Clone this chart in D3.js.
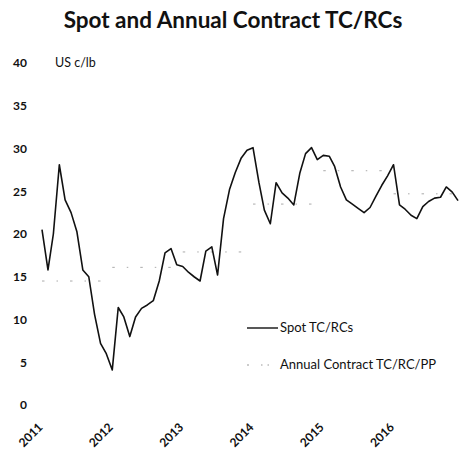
<!DOCTYPE html>
<html>
<head>
<meta charset="utf-8">
<script src="https://cdn.jsdelivr.net/npm/d3@7"></script>
<style>
  body { margin: 0; background: #fff; }
  text { font-family: Lato, "Open Sans", sans-serif; fill: #111; }
</style>
</head>
<body>
<div id="viz"></div>
<script>
var width  = 460;
var height = 449;

// monthly spot TC/RCs, Jan 2011 .. Dec 2016 (US c/lb)
var startMonth = "2011-01";
var spot = [
	20.5, 15.8, 20.0, 28.1, 24.0, 22.5, 20.3, 15.8, 15.0, 10.6, 7.2, 6.0,
	4.1, 11.4, 10.3, 8.0, 10.3, 11.3, 11.7, 12.2, 14.5, 17.8, 18.3, 16.4,
	16.2, 15.5, 15.0, 14.5, 18.0, 18.5, 15.2, 21.8, 25.2, 27.2, 28.9, 29.8,
	30.1, 26.0, 22.8, 21.2, 26.0, 24.8, 24.2, 23.4, 27.1, 29.4, 30.1, 28.7,
	29.2, 29.1, 27.9, 25.5, 24.0, 23.5, 23.0, 22.5, 23.1, 24.4, 25.7, 26.8,
	28.1, 23.4, 22.9, 22.2, 21.8, 23.2, 23.8, 24.2, 24.3, 25.5, 24.9, 23.9
];

// annual contract TC/RC/PP, one value per year
var years    = [2011, 2012, 2013, 2014, 2015, 2016];
var contract = [14.5, 16.1, 17.9, 23.5, 27.4, 24.7];

var yTicks = [0, 5, 10, 15, 20, 25, 30, 35, 40];
var legendNames = ["Spot TC/RCs", "Annual Contract TC/RC/PP"];

var parseMonth = d3.timeParse("%Y-%m");
var t0 = parseMonth(startMonth);
var spotData = spot.map(function(v, i){
	return {date: d3.timeMonth.offset(t0, i), value: v};
});

var x = d3.scaleTime()
	.domain([t0, d3.timeMonth.offset(t0, 72)])
	.range([42, 464]);
var y = d3.scaleLinear()
	.domain([0, 40])
	.range([405, 63]);

var svg = d3.select("#viz").append("svg")
	.attr("width", width)
	.attr("height", height);

svg.append("text")
	.attr("x", 233)
	.attr("y", 28)
	.attr("text-anchor", "middle")
	.style("font-size", "22.5px")
	.style("font-weight", "bold")
	.text("Spot and Annual Contract TC/RCs");

// y axis, no line, no ticks
var yAxis = svg.append("g")
	.attr("transform", "translate(29,0)")
	.call(d3.axisLeft(y).tickValues(yTicks).tickSize(0).tickPadding(2));
yAxis.select(".domain").remove();
yAxis.selectAll("text")
	.style("font-family", "Lato, sans-serif")
	.style("font-size", "12px")
	.style("font-weight", "bold")
	.attr("fill", "#111");

svg.append("text")
	.attr("x", 55)
	.attr("y", 67)
	.style("font-size", "12.5px")
	.text("US c/lb");

// x axis, yearly labels rotated
var xAxis = svg.append("g")
	.attr("transform", "translate(1,428)")
	.call(d3.axisBottom(x)
		.tickValues(years.map(function(yr){ return new Date(yr, 0, 1); }))
		.tickFormat(d3.timeFormat("%Y"))
		.tickSize(0));
xAxis.select(".domain").remove();
xAxis.selectAll("text")
	.attr("y", 0)
	.attr("dy", 0)
	.attr("text-anchor", "end")
	.attr("transform", "rotate(-45)")
	.style("font-family", "Lato, sans-serif")
	.style("font-size", "12px")
	.style("font-weight", "bold")
	.attr("fill", "#111");

// annual contract: faint dotted segment per year
var contractLine = d3.line()
	.x(function(d){ return x(d.date); })
	.y(function(d){ return y(d.value); });
for (var i = 0; i < years.length; i++){
	var seg = [
		{date: new Date(years[i], 0, 1),  value: contract[i]},
		{date: new Date(years[i], 11, 1), value: contract[i]}
	];
	svg.append("path")
		.attr("d", contractLine(seg))
		.attr("fill", "none")
		.attr("stroke", "#aaa")
		.attr("stroke-width", 1)
		.attr("stroke-dasharray", "2.5,12,1.5,12");
}

// spot line
var spotLine = d3.line()
	.x(function(d){ return x(d.date); })
	.y(function(d){ return y(d.value); });
svg.append("path")
	.attr("d", spotLine(spotData))
	.attr("fill", "none")
	.attr("stroke", "#111")
	.attr("stroke-width", 1.6)
	.attr("stroke-linejoin", "round");

// legend
var legend = svg.append("g");
legend.append("line")
	.attr("x1", 247).attr("x2", 278)
	.attr("y1", 328).attr("y2", 328)
	.attr("stroke", "#111")
	.attr("stroke-width", 1.4);
legend.append("line")
	.attr("x1", 247).attr("x2", 278)
	.attr("y1", 365).attr("y2", 365)
	.attr("stroke", "#999")
	.attr("stroke-width", 1)
	.attr("stroke-dasharray", "2,12,1.5,5,1.5,9");
legend.selectAll("text.lg")
	.data(legendNames)
	.enter().append("text")
	.attr("class", "lg")
	.attr("x", 280)
	.attr("y", function(d, i){ return 332 + i * 37; })
	.style("font-size", "13px")
	.text(function(d){ return d; });
</script>
</body>
</html>
